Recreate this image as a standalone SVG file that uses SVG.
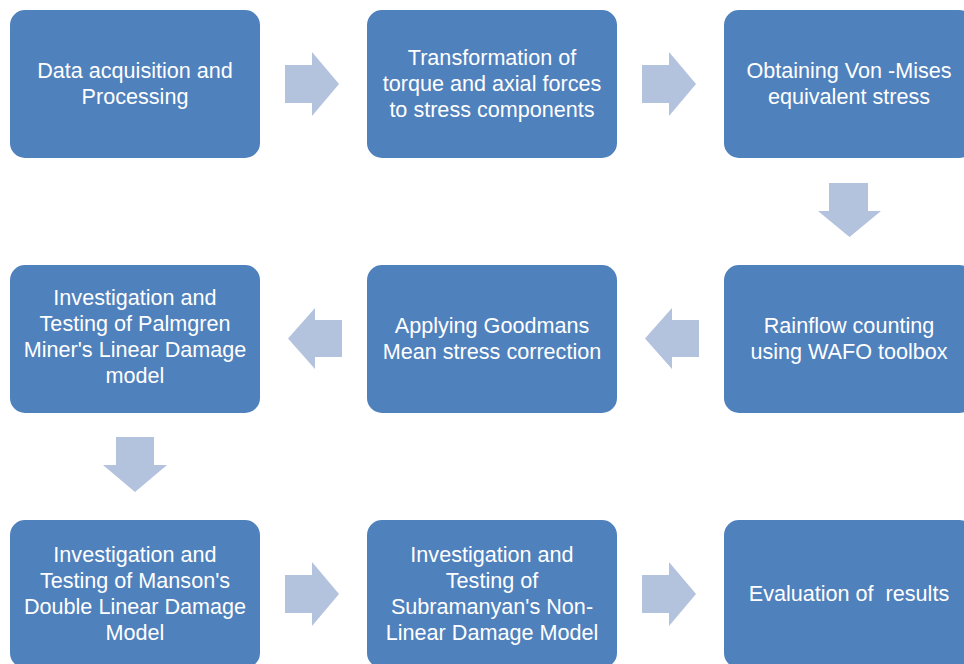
<svg xmlns="http://www.w3.org/2000/svg" width="964" height="664" viewBox="0 0 964 664">
<style>
.box{fill:#4F81BD;}
.arr{fill:#B3C2DD;}
text{font-family:"Liberation Sans",Arial,sans-serif;font-size:21.6px;fill:#FFFFFF;text-anchor:middle;}
</style>
<rect width="964" height="664" fill="#FFFFFF"/>
<g id="connectors">
<polygon class="arr" points="285,65 312,65 312,52 339,84 312,116 312,103 285,103"/>
<polygon class="arr" points="642,65 669,65 669,52 696,84 669,116 669,103 642,103"/>
<polygon class="arr" points="829,183 868,183 868,211 881,211 849.5,237 818,211 829,211"/>
<polygon class="arr" points="699,320 672,320 672,308 645,338.5 672,369 672,357 699,357"/>
<polygon class="arr" points="342,320 315,320 315,308 288,338.5 315,369 315,357 342,357"/>
<polygon class="arr" points="116,437 154,437 154,465 167,465 135,492 103,465 116,465"/>
<polygon class="arr" points="285,575 312,575 312,562 339,594 312,626 312,613 285,613"/>
<polygon class="arr" points="642,575 669,575 669,562 696,594 669,626 669,613 642,613"/>
</g>
<g id="n1"><rect class="box" x="10" y="10" width="250" height="148" rx="15"/>
<text x="135" y="78">Data acquisition and</text><text x="135" y="104">Processing</text></g>
<g id="n2"><rect class="box" x="367" y="10" width="250" height="148" rx="15"/>
<text x="492" y="65">Transformation of</text><text x="492" y="91">torque and axial forces</text><text x="492" y="117">to stress components</text></g>
<g id="n3"><rect class="box" x="724" y="10" width="250" height="148" rx="15"/>
<text x="849" y="78">Obtaining Von -Mises</text><text x="849" y="104">equivalent stress</text></g>
<g id="n4"><rect class="box" x="10" y="265" width="250" height="148" rx="15"/>
<text x="135" y="305">Investigation and</text><text x="135" y="331">Testing of Palmgren</text><text x="135" y="357">Miner's Linear Damage</text><text x="135" y="383">model</text></g>
<g id="n5"><rect class="box" x="367" y="265" width="250" height="148" rx="15"/>
<text x="492" y="333">Applying Goodmans</text><text x="492" y="359">Mean stress correction</text></g>
<g id="n6"><rect class="box" x="724" y="265" width="250" height="148" rx="15"/>
<text x="849" y="333">Rainflow counting</text><text x="849" y="359">using WAFO toolbox</text></g>
<g id="n7"><rect class="box" x="10" y="520" width="250" height="148" rx="15"/>
<text x="135" y="562">Investigation and</text><text x="135" y="588">Testing of Manson's</text><text x="135" y="614">Double Linear Damage</text><text x="135" y="640">Model</text></g>
<g id="n8"><rect class="box" x="367" y="520" width="250" height="148" rx="15"/>
<text x="492" y="562">Investigation and</text><text x="492" y="588">Testing of</text><text x="492" y="614">Subramanyan's Non-</text><text x="492" y="640">Linear Damage Model</text></g>
<g id="n9"><rect class="box" x="724" y="520" width="250" height="148" rx="15"/>
<text x="849" y="601" xml:space="preserve">Evaluation of  results</text></g>
</svg>
